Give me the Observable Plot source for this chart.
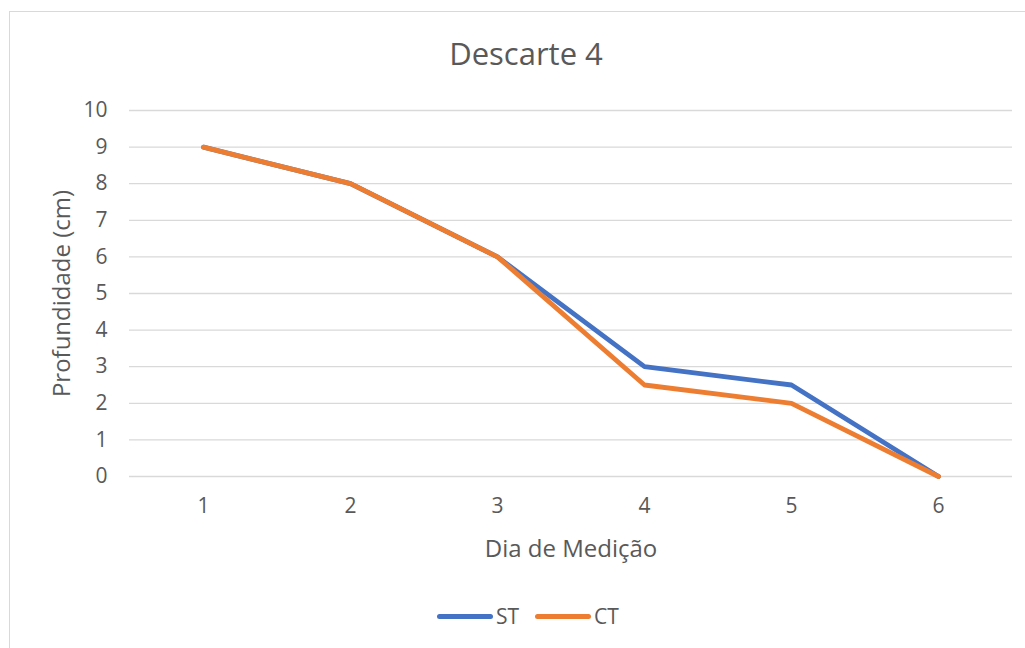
<!DOCTYPE html>
<html>
<head>
<meta charset="utf-8">
<script src="https://cdn.jsdelivr.net/npm/d3@7"></script>
<script src="https://cdn.jsdelivr.net/npm/@observablehq/plot@0.6"></script>
<style>
  body { margin: 0; background: #fff; }
  #wrap { position: relative; width: 1025px; height: 648px; overflow: hidden; font-family: "Open Sans", sans-serif; color: #595959; }
  #border { position: absolute; left: 9px; top: 11px; width: 1100px; height: 700px; border: 1px solid #d9d9d9; box-sizing: border-box; }
  #title { position: absolute; left: 0; width: 1052px; top: 32px; text-align: center; font-size: 31px; }
  #chart { position: absolute; left: 0; top: 0; }
  #legend { position: absolute; top: 602px; left: 437px; display: flex; align-items: center; font-size: 21px; }
  .sw { display: inline-block; width: 56px; height: 5px; border-radius: 3px; margin-right: 3px; }
  .item { display: flex; align-items: center; margin-right: 16px; }
</style>
</head>
<body>
<div id="wrap">
  <div id="border"></div>
  <div id="chart"></div>
  <div id="title">Descarte 4</div>
  <div id="legend"></div>
</div>
<script>
const days = [1, 2, 3, 4, 5, 6];
const seriesNames = ["ST", "CT"];
const stValues = [9, 8, 6, 3, 2.5, 0];
const ctValues = [9, 8, 6, 2.5, 2, 0];
const yTicks = [0, 1, 2, 3, 4, 5, 6, 7, 8, 9, 10];
const colors = ["#4472C4", "#ED7D31"];

const rows = [];
days.forEach((d, i) => rows.push({day: d, value: stValues[i], series: "ST"}));
days.forEach((d, i) => rows.push({day: d, value: ctValues[i], series: "CT"}));

const plot = Plot.plot({
  width: 1025,
  height: 580,
  marginLeft: 129,
  marginRight: 13,
  marginTop: 110,
  marginBottom: 104,
  style: {fontFamily: "Open Sans, sans-serif", fontSize: "20px", color: "#595959", background: "transparent"},
  x: {type: "point", domain: days, padding: 0.5},
  y: {domain: [0, 10]},
  color: {domain: seriesNames, range: colors},
  marks: [
    Plot.gridY(yTicks, {stroke: "#d9d9d9", strokeOpacity: 1, strokeWidth: 1.3}),
    Plot.axisY({ticks: yTicks, tickSize: 0, tickPadding: 22, label: null, fontSize: 21}),
    Plot.axisX({tickSize: 0, tickPadding: 22, label: null, fontSize: 21}),
    Plot.axisY({ticks: [], tickSize: 0, label: "Profundidade (cm)", labelAnchor: "center", labelOffset: 77, labelArrow: "none", fontSize: 24}),
    Plot.axisX({ticks: [], tickSize: 0, label: "Dia de Medição", labelAnchor: "center", labelOffset: 80, labelArrow: "none", fontSize: 24}),
    Plot.line(rows, {x: "day", y: "value", stroke: "series", z: "series", strokeWidth: 4.8, strokeLinecap: "round", strokeLinejoin: "round"})
  ]
});
document.getElementById("chart").appendChild(plot);

const leg = document.getElementById("legend");
seriesNames.forEach((s, i) => {
  const it = document.createElement("div");
  it.className = "item";
  it.innerHTML = `<span class="sw" style="background:${colors[i]}"></span><span>${s}</span>`;
  leg.appendChild(it);
});
</script>
</body>
</html>
